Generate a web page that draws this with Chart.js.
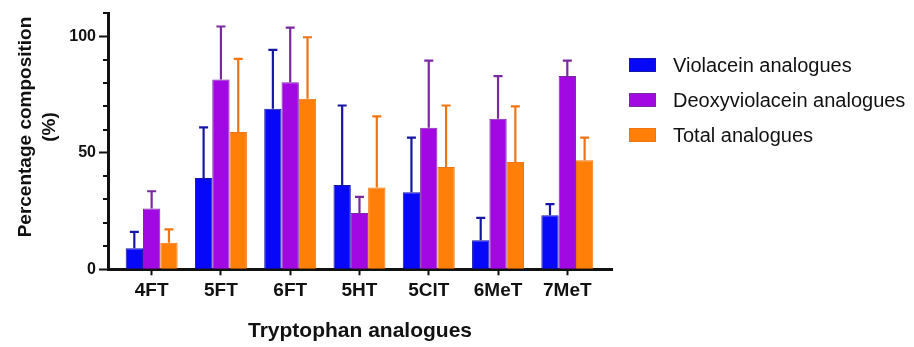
<!DOCTYPE html>
<html><head><meta charset="utf-8">
<script src="https://cdn.jsdelivr.net/npm/chart.js@4.4.1/dist/chart.umd.min.js"></script>
<style>html,body{margin:0;padding:0;background:#fff}#wrap{width:914px;height:347px}</style>
</head><body><div id="wrap"><canvas id="c" width="914" height="347"></canvas></div>
<script>
const categories = ['4FT', '5FT', '6FT', '5HT', '5ClT', '6MeT', '7MeT'];
const seriesNames = ['Violacein analogues', 'Deoxyviolacein analogues', 'Total analogues'];
const violacein = [9.0, 39.2, 68.9, 36.2, 33.1, 12.5, 23.2];
const violaceinSD = [7.1, 21.7, 25.3, 34.1, 23.4, 9.6, 4.8];
const deoxyviolacein = [26.1, 81.5, 80.3, 24.2, 60.8, 64.6, 83.0];
const deoxyviolaceinSD = [7.4, 22.7, 23.4, 6.9, 28.8, 18.3, 6.6];
const total = [11.4, 58.9, 73.2, 35.1, 43.9, 46.1, 46.8];
const totalSD = [5.7, 31.4, 26.4, 30.5, 26.4, 23.8, 9.7];
const yTickValues = [0, 50, 100];
const yTitle = ['Percentage composition', '(%)'];
const xTitle = 'Tryptophan analogues';

const FONT = "'Liberation Sans', Arial, Helvetica, sans-serif";
const fills = ['#0808f8', '#a108e2', '#ff7f08'];
const edges = ['#1616a8', '#7a2aa0', '#f07412'];

function toPoints(vals) { return vals.map((v, i) => ({x: i, y: v})); }

const datasets = [
  {label: seriesNames[0], data: toPoints(violacein), sd: violaceinSD},
  {label: seriesNames[1], data: toPoints(deoxyviolacein), sd: deoxyviolaceinSD},
  {label: seriesNames[2], data: toPoints(total), sd: totalSD}
].map((d, k) => Object.assign(d, {
  backgroundColor: fills[k], borderColor: edges[k], borderWidth: 1,
  categoryPercentage: 0.75, barPercentage: 1.0
}));

const errorBars = {
  id: 'errorBars',
  afterDatasetsDraw(chart) {
    const ctx = chart.ctx, ys = chart.scales.y;
    chart.data.datasets.forEach((ds, k) => {
      const meta = chart.getDatasetMeta(k);
      meta.data.forEach((bar, i) => {
        const v = ds.data[i].y, top = ys.getPixelForValue(v + ds.sd[i]);
        ctx.save();
        ctx.strokeStyle = edges[k];
        ctx.lineWidth = 2.2;
        ctx.beginPath();
        ctx.moveTo(bar.x, bar.y);
        ctx.lineTo(bar.x, top);
        ctx.moveTo(bar.x - 4.5, top);
        ctx.lineTo(bar.x + 4.5, top);
        ctx.stroke();
        ctx.restore();
      });
    });
  }
};

const extras = {
  id: 'extras',
  afterDraw(chart) {
    const ctx = chart.ctx, ys = chart.scales.y, area = chart.chartArea;
    ctx.save();
    // minor y ticks
    ctx.strokeStyle = '#111'; ctx.lineWidth = 2;
    ys.ticks.forEach(t => {
      if (yTickValues.includes(t.value)) return;
      const p = Math.round(ys.getPixelForValue(t.value));
      ctx.beginPath(); ctx.moveTo(area.left - 5, p); ctx.lineTo(area.left, p); ctx.stroke();
    });
    // y title
    ctx.fillStyle = '#111';
    ctx.font = 'bold 19px ' + FONT;
    ctx.textAlign = 'center'; ctx.textBaseline = 'middle';
    ctx.translate(26, 127); ctx.rotate(-Math.PI / 2);
    yTitle.forEach((line, i) => ctx.fillText(line, 0, i * 24));
    ctx.restore();
    // legend
    ctx.save();
    ctx.font = '20px ' + FONT;
    ctx.textAlign = 'left'; ctx.textBaseline = 'middle';
    chart.data.datasets.forEach((ds, k) => {
      const cy = 65 + k * 35;
      ctx.fillStyle = fills[k];
      ctx.fillRect(629, cy - 7, 27, 14);
      ctx.strokeStyle = edges[k]; ctx.lineWidth = 1;
      ctx.strokeRect(629.5, cy - 6.5, 26, 13);
      ctx.fillStyle = '#111';
      ctx.fillText(ds.label, 673, cy + 1);
    });
    ctx.restore();
  }
};

new Chart(document.getElementById('c'), {
  type: 'bar',
  data: {datasets},
  options: {
    responsive: false,
    animation: false,
    devicePixelRatio: 1,
    layout: {padding: {left: 0, right: 302, top: 13, bottom: 0}},
    plugins: {legend: {display: false}, tooltip: {enabled: false}},
    scales: {
      x: {
        type: 'linear', min: -0.63, max: 6.645, offset: false,
        afterBuildTicks(s) { s.ticks = categories.map((c, i) => ({value: i})); },
        afterFit(s) { s.height = 347 - 269.3; },
        border: {display: true, width: 3, color: '#111'},
        grid: {display: true, offset: false, drawOnChartArea: false, drawTicks: true, tickLength: 6, tickWidth: 2, tickColor: '#111'},
        ticks: {
          autoSkip: false, maxRotation: 0, padding: 4, color: '#111',
          font: {family: FONT, size: 19, weight: 'bold'},
          callback: (v) => categories[v] !== undefined ? categories[v] : ''
        },
        title: {display: true, text: xTitle, color: '#111', font: {family: FONT, size: 21, weight: 'bold'}, padding: {top: 0, bottom: 3}}
      },
      y: {
        min: 0, max: 110,
        afterFit(s) { s.width = 108; },
        border: {display: true, width: 3, color: '#111'},
        grid: {display: true, drawOnChartArea: false, drawTicks: true, tickLength: 9, tickWidth: 2,
               tickColor: (c) => (c.tick && yTickValues.includes(c.tick.value)) ? '#111' : 'rgba(0,0,0,0)'},
        ticks: {
          stepSize: 10, padding: 3, color: '#111',
          font: {family: FONT, size: 16, weight: 'bold'},
          callback: (v) => yTickValues.includes(v) ? String(v) : ''
        }
      }
    }
  },
  plugins: [errorBars, extras]
});
</script>
</body></html>
